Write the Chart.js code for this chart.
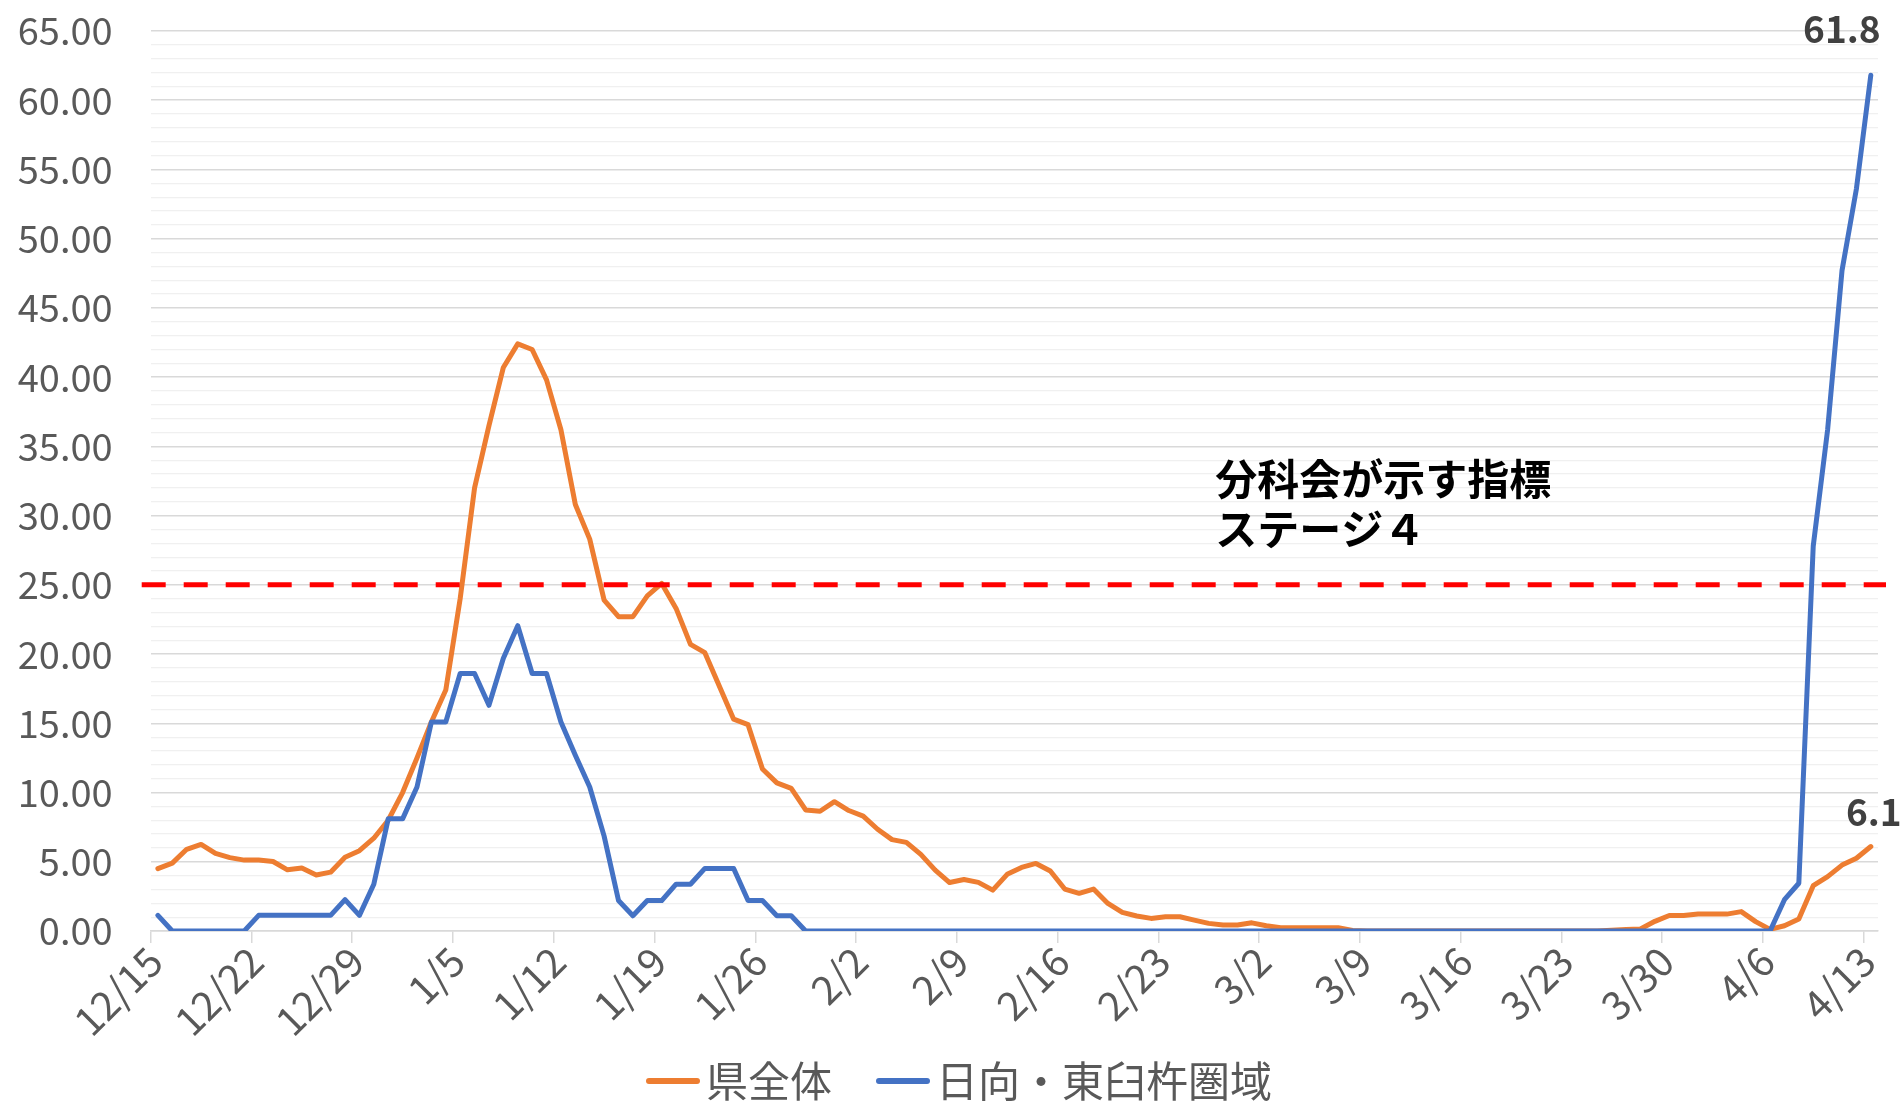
<!DOCTYPE html>
<html>
<head>
<meta charset="utf-8">
<script src="https://cdn.jsdelivr.net/npm/chart.js@4.4.1/dist/chart.umd.min.js"></script>
<style>
html, body { margin: 0; padding: 0; background: #fff; }
</style>
</head>
<body>
<canvas id="chart" width="1903" height="1103"></canvas>
<script>
const dates = [
    '12/15','12/16','12/17','12/18','12/19','12/20','12/21','12/22','12/23','12/24','12/25','12/26','12/27','12/28','12/29','12/30','12/31',
    '1/1','1/2','1/3','1/4','1/5','1/6','1/7','1/8','1/9','1/10','1/11','1/12','1/13','1/14','1/15','1/16','1/17','1/18','1/19','1/20',
    '1/21','1/22','1/23','1/24','1/25','1/26','1/27','1/28','1/29','1/30','1/31',
    '2/1','2/2','2/3','2/4','2/5','2/6','2/7','2/8','2/9','2/10','2/11','2/12','2/13','2/14','2/15','2/16','2/17','2/18','2/19','2/20',
    '2/21','2/22','2/23','2/24','2/25','2/26','2/27','2/28',
    '3/1','3/2','3/3','3/4','3/5','3/6','3/7','3/8','3/9','3/10','3/11','3/12','3/13','3/14','3/15','3/16','3/17','3/18','3/19','3/20',
    '3/21','3/22','3/23','3/24','3/25','3/26','3/27','3/28','3/29','3/30','3/31',
    '4/1','4/2','4/3','4/4','4/5','4/6','4/7','4/8','4/9','4/10','4/11','4/12','4/13'
]

// 県全体
const prefValues = [
    4.5, 4.9, 5.9, 6.25, 5.6, 5.3, 5.12, 5.12, 5.02, 4.42,
    4.55, 4.05, 4.25, 5.33, 5.8, 6.7, 8.0, 10.0, 12.5, 15.1,
    17.4, 24.0, 32.0, 36.5, 40.7, 42.4, 42.0, 39.8, 36.2, 30.8,
    28.3, 23.9, 22.7, 22.7, 24.2, 25.1, 23.3, 20.7, 20.1, 17.7,
    15.3, 14.9, 11.7, 10.7, 10.3, 8.74, 8.65, 9.34, 8.7, 8.3,
    7.35, 6.6, 6.4, 5.53, 4.4, 3.5, 3.72, 3.51, 2.95, 4.09,
    4.59, 4.88, 4.33, 3.03, 2.72, 3.03, 1.99, 1.34, 1.08, 0.91,
    1.03, 1.03, 0.79, 0.55, 0.43, 0.43, 0.59, 0.38, 0.23, 0.23,
    0.23, 0.23, 0.23, 0.04, 0, 0, 0, 0, 0, 0,
    0, 0, 0, 0, 0, 0, 0, 0, 0, 0,
    0, 0.05, 0.1, 0.15, 0.7, 1.12, 1.12, 1.22, 1.22, 1.22,
    1.4, 0.68, 0.12, 0.38, 0.87, 3.27, 3.93, 4.76, 5.25, 6.1
]

// 日向・東臼杵圏域
const areaValues = [
    1.13, 0, 0, 0, 0, 0, 0, 1.13, 1.13, 1.13,
    1.13, 1.13, 1.13, 2.27, 1.13, 3.38, 8.1, 8.1, 10.4, 15.1,
    15.1, 18.6, 18.6, 16.3, 19.7, 22.05, 18.6, 18.6, 15.1, 12.7,
    10.4, 6.85, 2.2, 1.1, 2.2, 2.2, 3.38, 3.38, 4.52, 4.52,
    4.52, 2.2, 2.2, 1.1, 1.1, 0, 0, 0, 0, 0,
    0, 0, 0, 0, 0, 0, 0, 0, 0, 0,
    0, 0, 0, 0, 0, 0, 0, 0, 0, 0,
    0, 0, 0, 0, 0, 0, 0, 0, 0, 0,
    0, 0, 0, 0, 0, 0, 0, 0, 0, 0,
    0, 0, 0, 0, 0, 0, 0, 0, 0, 0,
    0, 0, 0, 0, 0, 0, 0, 0, 0, 0,
    0, 0, 0, 2.26, 3.45, 27.8, 36.2, 47.7, 53.6, 61.8
]

const seriesNames = ['県全体', '日向・東臼杵圏域']
const seriesColors = ['#ED7D31', '#4472C4']
const stageValue = 25
const stageNote = ['分科会が示す指標', 'ステージ４']

const fontFamily = "'Noto Sans CJK JP', 'Noto Sans', sans-serif"
Chart.defaults.font.family = fontFamily

// red dashed stage line, the note and the two end values
const overlayPlugin = {
    id: 'overlay',
    afterDatasetsDraw(chart, args, opts){
        const ctx = chart.ctx
        const area = chart.chartArea
        const xScale = chart.scales.x
        const yScale = chart.scales.y
        ctx.save()

        const lineY = yScale.getPixelForValue(stageValue)
        ctx.strokeStyle = '#FF0000'
        ctx.lineWidth = 5
        ctx.setLineDash([24, 18])
        ctx.beginPath()
        ctx.moveTo(area.left - 9, lineY)
        ctx.lineTo(area.right + 8, lineY)
        ctx.stroke()
        ctx.setLineDash([])

        ctx.fillStyle = '#000000'
        ctx.font = 'bold 42px ' + fontFamily
        ctx.textAlign = 'left'
        ctx.textBaseline = 'middle'
        const noteX = xScale.getPixelForValue(opts.noteIndex)
        const noteY = yScale.getPixelForValue(opts.noteValue)
        stageNote.forEach((line, i) => ctx.fillText(line, noteX, noteY + i * 50))

        ctx.font = 'bold 37px ' + fontFamily
        ctx.fillStyle = '#404040'
        ctx.textAlign = 'center'
        opts.endLabels.forEach(item => {
            const meta = chart.getDatasetMeta(item.dataset)
            const last = meta.data.length - 1
            const point = meta.data[last]
            const value = chart.data.datasets[item.dataset].data[last]
            ctx.fillText(value.toFixed(1), point.x + item.dx, point.y + item.dy)
        })
        ctx.restore()
    }
}

// short thick line used as legend symbol, drawn in the right part of a wider image
function makeLegendMarker(color){
    const marker = document.createElement('canvas')
    marker.width = 109
    marker.height = 8
    const ctx = marker.getContext('2d')
    ctx.strokeStyle = color
    ctx.lineWidth = 6
    ctx.lineCap = 'round'
    ctx.beginPath()
    ctx.moveTo(58, 4)
    ctx.lineTo(106, 4)
    ctx.stroke()
    return marker
}

function makeDataset(label, values, color, order){
    return {
        label: label,
        data: values,
        borderColor: color,
        backgroundColor: color,
        borderWidth: 5,
        borderCapStyle: 'round',
        borderJoinStyle: 'round',
        pointRadius: 0,
        tension: 0,
        order: order
    }
}

function displayChart(){
    const tickColor = '#595959'
    const markers = seriesColors.map(makeLegendMarker)
    new Chart(document.getElementById('chart'), {
        type: 'line',
        data: {
            labels: dates,
            datasets: [
                makeDataset(seriesNames[0], prefValues, seriesColors[0], 1),
                makeDataset(seriesNames[1], areaValues, seriesColors[1], 0)
            ]
        },
        options: {
            responsive: false,
            animation: false,
            layout: { padding: { top: 31, right: 25, left: 0, bottom: -9 } },
            plugins: {
                tooltip: { enabled: false },
                legend: {
                    position: 'bottom',
                    labels: {
                        usePointStyle: true,
                        pointStyleWidth: 79,
                        padding: 4,
                        color: tickColor,
                        font: { size: 42 },
                        sort: (a, b) => a.datasetIndex - b.datasetIndex,
                        generateLabels: chart => Chart.defaults.plugins.legend.labels.generateLabels(chart)
                            .map(item => Object.assign(item, { pointStyle: markers[item.datasetIndex] }))
                    }
                },
                overlay: {
                    noteIndex: 73.45,
                    noteValue: 32.65,
                    endLabels: [
                        { dataset: 1, dx: -29, dy: -46 },
                        { dataset: 0, dx: 3, dy: -35 }
                    ]
                }
            },
            scales: {
                x: {
                    offset: true,
                    grid: {
                        offset: true,
                        drawOnChartArea: false,
                        tickLength: 12,
                        lineWidth: 1.5,
                        color: c => c.index % 7 === 0 ? '#D9D9D9' : 'rgba(0,0,0,0)'
                    },
                    border: { color: '#D9D9D9', width: 1.5 },
                    ticks: {
                        autoSkip: false,
                        minRotation: 45,
                        maxRotation: 45,
                        padding: -6,
                        labelOffset: -3,
                        color: tickColor,
                        font: { size: 40 },
                        callback: (v, i) => i % 7 === 0 ? dates[i] : ''
                    },
                    afterFit: scale => {
                        scale.height = 125
                        scale.paddingRight = 0
                    }
                },
                y: {
                    min: 0,
                    max: 65,
                    border: { display: false },
                    grid: {
                        tickLength: 38,
                        tickColor: 'rgba(0,0,0,0)',
                        lineWidth: c => c.tick.value % 5 === 0 ? 1.5 : 1.2,
                        color: c => c.tick.value % 5 === 0 ? '#D9D9D9' : '#F0F0F0'
                    },
                    ticks: {
                        stepSize: 1,
                        autoSkip: false,
                        padding: 0,
                        color: tickColor,
                        font: { size: 38 },
                        callback: v => v % 5 === 0 ? v.toFixed(2) : ''
                    },
                    afterFit: scale => { scale.width = 150.7 }
                }
            }
        },
        plugins: [overlayPlugin]
    })
}

window.onload = displayChart
</script>
</body>
</html>
